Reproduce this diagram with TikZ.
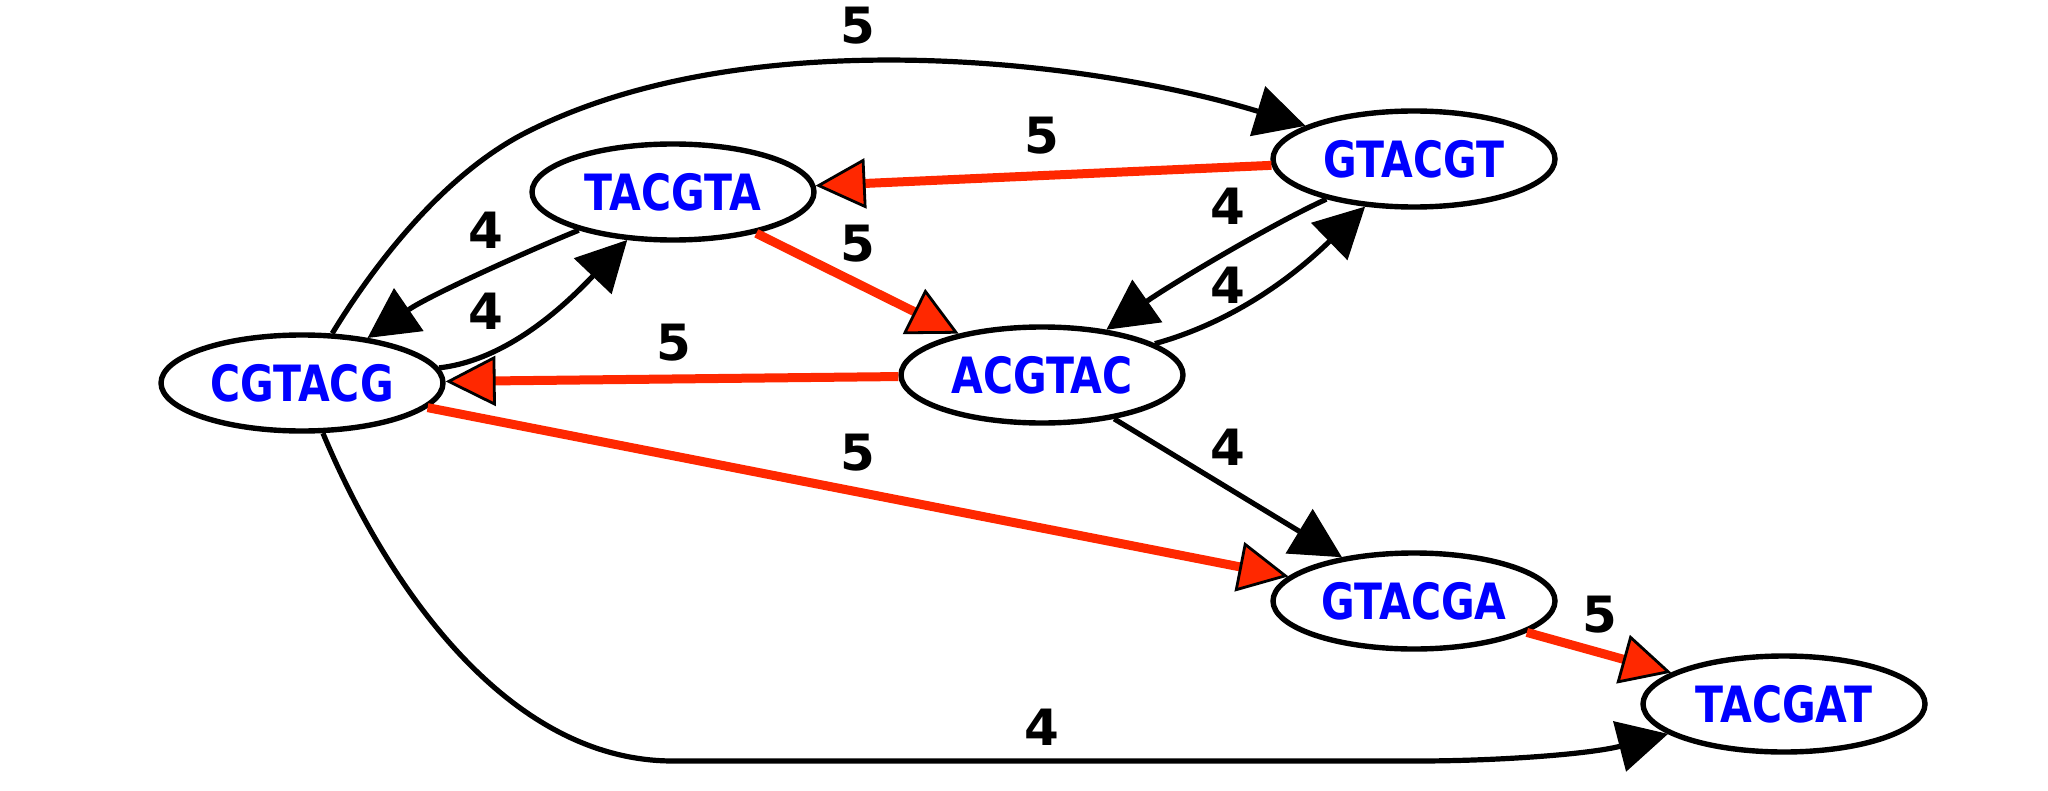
\documentclass[tikz,border=0pt]{standalone}
\usepackage{fontspec}
\setmainfont{DejaVu Sans}
\newfontfamily\nodefont{DejaVu Sans}[FakeStretch=0.82]
\usetikzlibrary{arrows.meta,shapes.geometric}
\definecolor{ored}{RGB}{255,40,0}
\definecolor{nblue}{RGB}{0,0,255}
\begin{document}
\begin{tikzpicture}[x=0.5pt,y=-0.5pt,
  seq/.style={ellipse,draw,line width=2.7pt,minimum width=141pt,minimum height=48pt,inner sep=0pt,text=nblue,font=\nodefont\bfseries\fontsize{25}{25}\selectfont},
  blk/.style={line width=2.6pt,-{Triangle[length=25pt,width=26pt,line width=0.6pt]}},
  rd/.style={draw=ored,line width=4.5pt,-{Triangle[length=25pt,width=25pt,color=black,fill=ored,line width=1.4pt]}},
  lab/.style={font=\bfseries\fontsize{25}{25}\selectfont}]
\useasboundingbox (0,0) rectangle (2048,791);
\node[seq] (cg) at (302,383) {CGTACG};
\node[seq] (ta) at (673,192) {TACGTA};
\node[seq] (gt) at (1414,159) {GTACGT};
\node[seq] (ac) at (1042,375) {ACGTAC};
\node[seq] (ga) at (1414,601) {GTACGA};
\node[seq] (tg) at (1784,704) {TACGAT};
% edges
\draw[blk] (cg) .. controls (380,255) and (450,170) .. (529,131) .. controls (750,20) and (1090,60) .. (gt);
\draw[rd] (gt) -- (ta);
\draw[blk] (ta) .. controls (530,250) and (430,295) .. (cg);
\draw[blk] (cg) .. controls (510,360) and (570,300) .. (ta);
\draw[rd] (ta) -- (ac);
\draw[rd] (ac) -- (cg);
\draw[blk] (gt) .. controls (1270,225) and (1170,285) .. (ac);
\draw[blk] (ac) .. controls (1240,320) and (1300,270) .. (gt);
\draw[blk] (ac) -- (ga);
\draw[rd] (cg) -- (ga);
\draw[rd] (ga) -- (tg);
\draw[blk] (cg) .. controls (380,570) and (500,761) .. (673,761) -- (1417,761) .. controls (1500,761) and (1590,754) .. (tg);
% labels
\node[lab] (l1) at (858,26) {5};
\node[lab] (l2) at (1042,136) {5};
\node[lab] (l3) at (486,230) {4};
\node[lab] (l4) at (486,311) {4};
\node[lab] (l5) at (858,244) {5};
\node[lab] (l6) at (674,343) {5};
\node[lab] (l7) at (1228,206) {4};
\node[lab] (l8) at (1228,285) {4};
\node[lab] (l9) at (1228,447) {4};
\node[lab] (l10) at (858,453) {5};
\node[lab] (l11) at (1600,615) {5};
\node[lab] (l12) at (1042,727) {4};
\end{tikzpicture}
\end{document}
